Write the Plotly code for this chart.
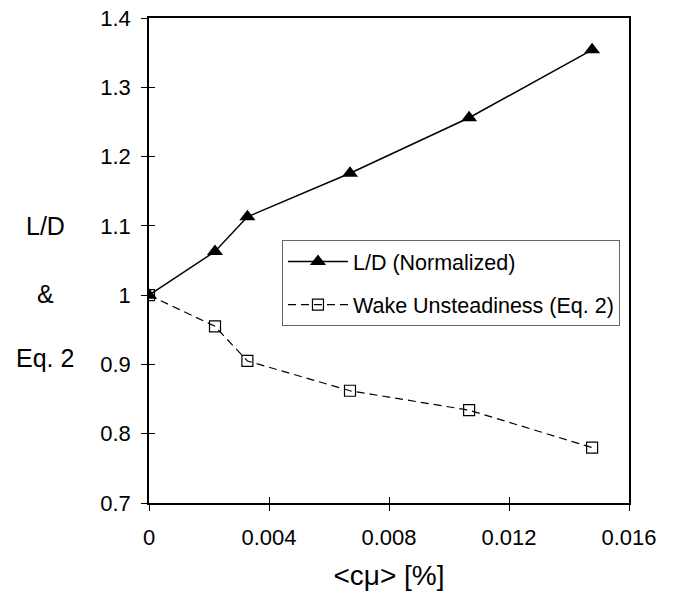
import plotly.graph_objects as go

# ---- data ----
cmu = [0.0, 0.0022, 0.00328, 0.0067, 0.01067, 0.01477]
ld_normalized = [1.0, 1.063, 1.113, 1.176, 1.256, 1.354]
wake_unsteadiness = [1.0, 0.955, 0.905, 0.862, 0.834, 0.780]

x_ticks = [0, 0.004, 0.008, 0.012, 0.016]
x_ticktext = ["0", "0.004", "0.008", "0.012", "0.016"]
y_ticks = [0.7, 0.8, 0.9, 1.0, 1.1, 1.2, 1.3, 1.4]
y_ticktext = ["0.7", "0.8", "0.9", "1", "1.1", "1.2", "1.3", "1.4"]

FONT = "Liberation Sans, Arial, sans-serif"

fig = go.Figure()
fig.add_trace(go.Scatter(
    x=cmu, y=ld_normalized, mode="lines+markers", name="L/D (Normalized)",
    line=dict(color="black", width=1.5),
    marker=dict(symbol="triangle-up", size=14, color="black"),
    legendgroup="a",
))
fig.add_trace(go.Scatter(
    x=cmu, y=wake_unsteadiness, mode="lines+markers", name="Wake Unsteadiness (Eq. 2)",
    line=dict(color="black", width=1.2, dash="8px,5px"),
    marker=dict(symbol="square-open", size=11, color="black", line=dict(width=1.2)),
    legendgroup="b",
))

axis_common = dict(showgrid=False, zeroline=False, linecolor="black", linewidth=1.5,
                   tickcolor="black", tickwidth=1, ticklen=6, automargin=False,
                   tickfont=dict(family=FONT, size=22, color="black"))

fig.update_layout(
    width=678, height=595,
    margin=dict(l=149, r=49, t=18, b=92),
    paper_bgcolor="white", plot_bgcolor="white",
    font=dict(family=FONT, color="black"),
    showlegend=True,
    legend=dict(x=0.277, y=0.542, xanchor="left", yanchor="top",
                bordercolor="#666666", borderwidth=1, bgcolor="white",
                font=dict(family=FONT, size=21.5, color="black"),
                tracegroupgap=12, itemwidth=60),
    xaxis=dict(range=[0, 0.016], tickvals=x_ticks, ticktext=x_ticktext,
               ticks="outside", mirror=True, showline=True,
               ticklabelstandoff=8,
               title=dict(text="&lt;cμ&gt; [%]", font=dict(family=FONT, size=28, color="black"), standoff=16),
               **axis_common),
    yaxis=dict(range=[0.7, 1.4], tickvals=y_ticks, ticktext=y_ticktext,
               ticks="outside", mirror=True, showline=True,
               ticklabelstandoff=6,
               **axis_common),
    xaxis2=dict(overlaying="x", anchor="y", side="bottom", range=[0, 0.016],
                tickvals=x_ticks, ticks="inside", ticklen=6, tickcolor="black",
                showticklabels=False, showline=False, showgrid=False, zeroline=False),
    yaxis2=dict(overlaying="y", anchor="x", side="left", range=[0.7, 1.4],
                tickvals=y_ticks, ticks="inside", ticklen=6, tickcolor="black",
                showticklabels=False, showline=False, showgrid=False, zeroline=False),
)

# dummy invisible trace so the overlay axes render
fig.add_trace(go.Scatter(x=[None], y=[None], xaxis="x2", yaxis="y2", showlegend=False))

for txt, yp in [("L/D", 0.571), ("&amp;", 0.431), ("Eq. 2", 0.298)]:
    fig.add_annotation(text=txt, xref="paper", yref="paper", x=0, y=yp,
                       xshift=-104, showarrow=False, xanchor="center", yanchor="middle",
                       font=dict(family=FONT, size=25, color="black"))

fig.write_html("out.html")
